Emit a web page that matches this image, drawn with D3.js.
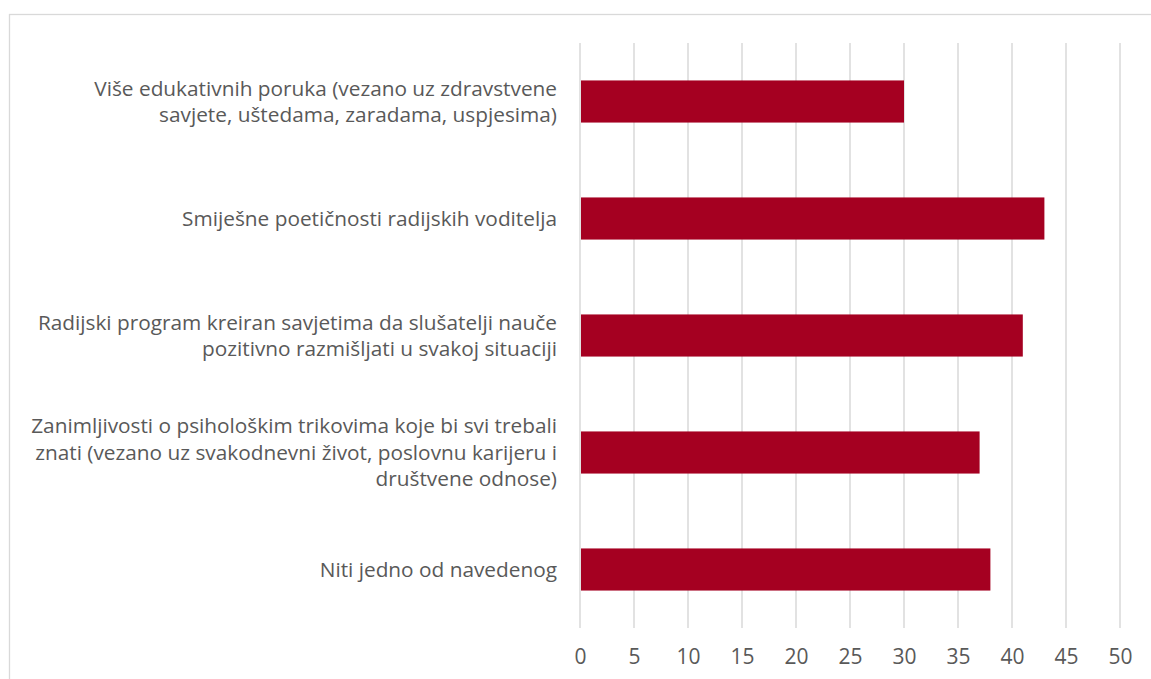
<!DOCTYPE html>
<html>
<head>
<meta charset="utf-8">
<script src="https://cdn.jsdelivr.net/npm/d3@7/dist/d3.min.js"></script>
<style>
  body { margin: 0; background: #fff; }
  text { font-family: "Open Sans", Lato, sans-serif; fill: #595959; }
</style>
</head>
<body>
<script>
// categories, top to bottom (each label already split into its lines)
var categories = [
    ["Više edukativnih poruka (vezano uz zdravstvene", "savjete, uštedama, zaradama, uspjesima)"],
    ["Smiješne poetičnosti radijskih voditelja"],
    ["Radijski program kreiran savjetima da slušatelji nauče", "pozitivno razmišljati u svakoj situaciji"],
    ["Zanimljivosti o psihološkim trikovima koje bi svi trebali", "znati (vezano uz svakodnevni život, poslovnu karijeru i", "društvene odnose)"],
    ["Niti jedno od navedenog"]
];
var values = [30, 43, 41, 37, 38];
var xTicks = [0, 5, 10, 15, 20, 25, 30, 35, 40, 45, 50];

var W = 1151, H = 679;
var plot = { left: 580, right: 1120, top: 43, bottom: 628 };

var svg = d3.select("body").append("svg")
    .attr("width", W)
    .attr("height", H);

// chart area border (runs off the right and bottom edge)
svg.append("rect")
    .attr("x", 9.5).attr("y", 14.5)
    .attr("width", W + 10).attr("height", H + 10)
    .attr("fill", "none")
    .attr("stroke", "#d9d9d9")
    .attr("stroke-width", 1.3);

var xScale = d3.scaleLinear()
    .domain([0, 50])
    .range([plot.left, plot.right]);

var yScale = d3.scaleBand()
    .domain(d3.range(categories.length))
    .range([plot.top, plot.bottom])
    .paddingInner(0.64)
    .paddingOuter(0.32);

// vertical gridlines
svg.append("g")
    .selectAll("line")
    .data(xTicks)
    .join("line")
    .attr("x1", d => xScale(d)).attr("x2", d => xScale(d))
    .attr("y1", plot.top).attr("y2", plot.bottom)
    .attr("stroke", "#d9d9d9")
    .attr("stroke-width", 1.5);

// bars
svg.append("g")
    .selectAll("rect")
    .data(values)
    .join("rect")
    .attr("x", xScale(0) + 1)
    .attr("y", (d, i) => yScale(i))
    .attr("width", d => xScale(d) - xScale(0) - 1)
    .attr("height", yScale.bandwidth())
    .attr("fill", "#a50021");

// x axis labels
var xAxis = svg.append("g")
    .attr("transform", "translate(0," + plot.bottom + ")")
    .call(d3.axisBottom(xScale).tickValues(xTicks).tickSize(0).tickPadding(21));
xAxis.select(".domain").remove();
xAxis.selectAll("text")
    .style("font-size", "21px")
    .style("font-family", "'Open Sans', Lato, sans-serif")
    .attr("fill", "#595959");

// category labels, right aligned, multi-line
var lineH = 26.5;
var labels = svg.append("g")
    .selectAll("text")
    .data(categories)
    .join("text")
    .attr("text-anchor", "end")
    .style("font-size", "20.8px")
    .attr("y", (d, i) => yScale(i) + yScale.bandwidth() / 2 - (d.length - 1) * lineH / 2);

labels.selectAll("tspan")
    .data(d => d)
    .join("tspan")
    .attr("x", 557)
    .attr("dy", (d, i) => i === 0 ? "0.35em" : lineH)
    .text(d => d);
</script>
</body>
</html>
